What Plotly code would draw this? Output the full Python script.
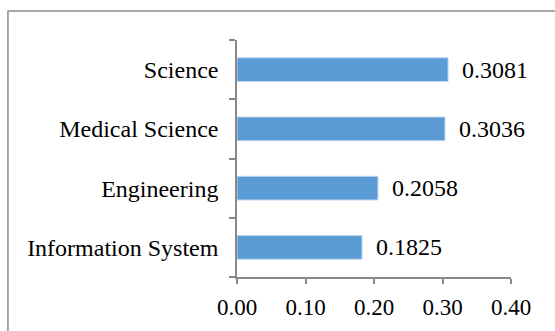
import plotly.graph_objects as go

# Fields listed bottom-to-top as they appear on the category axis
fields = ["Information System", "Engineering", "Medical Science", "Science"]
scores = [0.1825, 0.2058, 0.3036, 0.3081]
x_ticks = [0.0, 0.1, 0.2, 0.3, 0.4]
x_tick_text = ["0.00", "0.10", "0.20", "0.30", "0.40"]

FONT = "Liberation Serif, Times New Roman, serif"
AXIS_GREY = "#898989"

fig = go.Figure(
    go.Bar(
        x=scores,
        y=fields,
        orientation="h",
        marker=dict(color="#5B9BD5", line=dict(color="#BDD7EE", width=1)),
        width=0.4,
        hoverinfo="skip",
    )
)

# Value labels placed just beyond the end of each bar
for f, v in zip(fields, scores):
    fig.add_annotation(
        x=v, y=f, text=f"{v:.4f}", showarrow=False,
        xanchor="left", yanchor="middle", xshift=12,
        font=dict(family=FONT, size=24, color="#000000"),
    )

# Thin grey frame around the chart area
fig.add_shape(
    type="rect", xref="paper", yref="paper",
    x0=-0.836, x1=1.2, y0=-0.3, y1=1.122,
    line=dict(color="#8C8C8C", width=1.5), fillcolor="rgba(0,0,0,0)",
    layer="below",
)

fig.update_layout(
    width=555, height=331,
    margin=dict(l=237, r=44, t=40, b=54),
    paper_bgcolor="white", plot_bgcolor="white",
    showlegend=False,
    font=dict(family=FONT, size=24, color="#000000"),
    xaxis=dict(
        range=[0, 0.4],
        tickvals=x_ticks, ticktext=x_tick_text,
        showgrid=False, zeroline=False,
        showline=True, linecolor=AXIS_GREY, linewidth=1.5,
        ticks="outside", ticklen=5, tickcolor=AXIS_GREY, tickwidth=1.5,
        ticklabelstandoff=4,
        tickfont=dict(family=FONT, size=23),
        fixedrange=True,
    ),
    yaxis=dict(
        type="category", categoryorder="array", categoryarray=fields,
        range=[-0.5, 3.5],
        showgrid=False, zeroline=False,
        showline=True, linecolor=AXIS_GREY, linewidth=1.5,
        ticks="outside", ticklen=6, tickcolor=AXIS_GREY, tickwidth=1.5,
        tickson="boundaries",
        ticklabelstandoff=12,
        tickfont=dict(family=FONT, size=24),
        fixedrange=True,
    ),
)

fig.write_html("out.html", config={"displayModeBar": False})
